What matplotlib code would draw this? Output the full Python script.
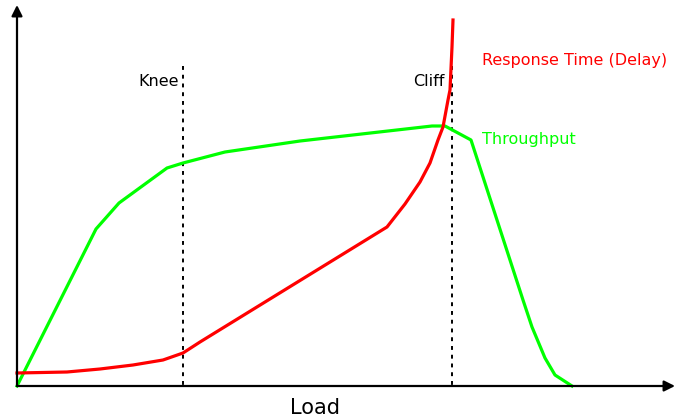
import matplotlib
matplotlib.use("Agg")
import matplotlib.pyplot as plt

# Data (pixel-space coordinates: x right, y down)
throughput_x = [17, 96, 119, 167, 183, 225, 300, 432, 445, 471, 523, 532, 545, 555, 572]
throughput_y = [386, 229, 203, 168, 163, 152, 141, 126, 126, 140, 300, 327, 358, 375, 386]

delay_x = [17, 67, 100, 133, 163, 183, 200, 387, 405, 420, 430, 438, 443, 448, 450, 452, 453]
delay_y = [373, 372, 369, 365, 360, 353, 342, 227, 204, 182, 163, 140, 127, 100, 90, 47, 20]

knee_x = 183
cliff_x = 452
marker_top = 66
origin = (17, 386)

labels = {"knee": "Knee", "cliff": "Cliff", "delay": "Response Time (Delay)",
          "throughput": "Throughput", "xlabel": "Load"}

fig = plt.figure(figsize=(6.76, 4.19), dpi=100)
ax = fig.add_axes([0, 0, 1, 1])
ax.set_xlim(0, 676)
ax.set_ylim(419, 0)
ax.axis("off")

arrow_style = dict(arrowstyle="-|>", lw=1.6, color="black", mutation_scale=16,
                   shrinkA=0, shrinkB=0)
# axes with arrows
ax.annotate("", xy=(origin[0], 5), xytext=origin, arrowprops=arrow_style,
            annotation_clip=False)
ax.annotate("", xy=(675, origin[1]), xytext=origin, arrowprops=arrow_style,
            annotation_clip=False)

# dotted markers
for xv in (knee_x, cliff_x):
    ax.plot([xv, xv], [marker_top, origin[1]], color="black", lw=1.4,
            linestyle=(0, (2, 2.5)))

ax.plot(throughput_x, throughput_y, color="#00ff00", lw=2.3)
ax.plot(delay_x, delay_y, color="#ff0000", lw=2.3)

ax.text(179, 82, labels["knee"], ha="right", va="center", fontsize=11.5, color="black")
ax.text(444, 82, labels["cliff"], ha="right", va="center", fontsize=11.5, color="black")
ax.text(482, 60, labels["delay"], ha="left", va="center", fontsize=11.5, color="#ff0000")
ax.text(482, 139, labels["throughput"], ha="left", va="center", fontsize=11.5, color="#00ff00")
ax.text(315, 408, labels["xlabel"], ha="center", va="center", fontsize=15, color="black")

fig.savefig("out.png", dpi=100)
